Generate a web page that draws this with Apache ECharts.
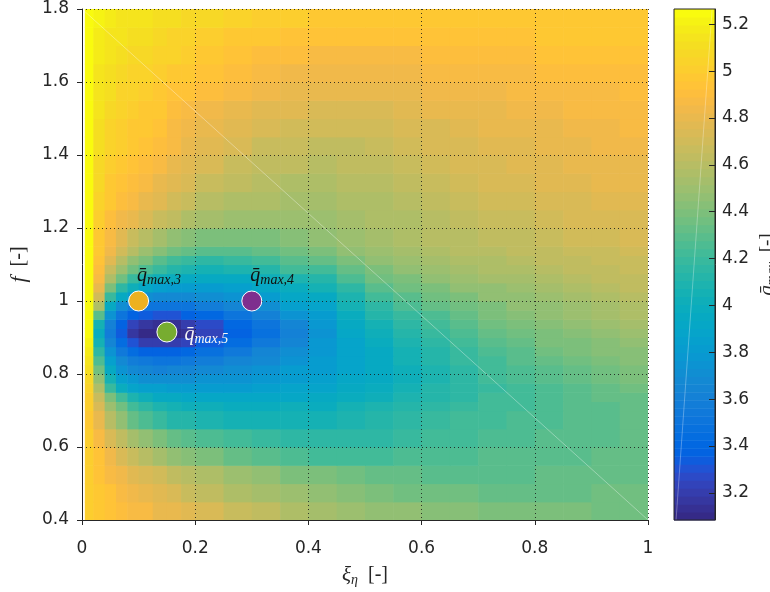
<!DOCTYPE html>
<html>
<head>
<meta charset="utf-8">
<script src="https://cdn.jsdelivr.net/npm/echarts@6/dist/echarts.min.js"></script>
<style>
  html, body { margin: 0; padding: 0; background: #fff; }
  #chart { width: 770px; height: 592px; }
</style>
</head>
<body>
<div id="chart"></div>
<script>
// Bin edges of the (xi_eta, f) sweep; f is sampled finer through the resonance valley
const xiEdges = [0.005, 0.02, 0.04, 0.06, 0.08, 0.1, 0.125, 0.15, 0.175, 0.2, 0.25,
                 0.3, 0.35, 0.4, 0.45, 0.5, 0.55, 0.6, 0.65, 0.7, 0.75, 0.8, 0.85, 0.9, 0.95, 1.0];
const fEdges = [0.4, 0.45, 0.5, 0.55, 0.6, 0.65, 0.7,
                0.725, 0.75, 0.775, 0.8, 0.825, 0.85, 0.875, 0.9, 0.925, 0.95, 0.975, 1.0,
                1.025, 1.05, 1.075, 1.1, 1.125, 1.15,
                1.2, 1.25, 1.3, 1.35, 1.4, 1.45, 1.5, 1.55, 1.6, 1.65, 1.7, 1.75, 1.8];

// q_max per cell, one row per f bin (bottom to top), one column per xi bin
const qRows = [
  [5.02, 4.98, 4.95, 4.92, 4.89, 4.86, 4.82, 4.79, 4.76, 4.72, 4.67, 4.62, 4.58, 4.54, 4.50, 4.48, 4.45, 4.43, 4.42, 4.41, 4.40, 4.39, 4.38, 4.37, 4.37],
  [5.02, 4.97, 4.93, 4.88, 4.84, 4.80, 4.76, 4.72, 4.68, 4.64, 4.58, 4.53, 4.49, 4.45, 4.42, 4.40, 4.37, 4.36, 4.35, 4.34, 4.34, 4.34, 4.34, 4.35, 4.35],
  [5.01, 4.95, 4.89, 4.83, 4.78, 4.74, 4.69, 4.65, 4.61, 4.57, 4.50, 4.45, 4.41, 4.38, 4.35, 4.33, 4.32, 4.31, 4.31, 4.31, 4.31, 4.32, 4.32, 4.33, 4.33],
  [5.00, 4.93, 4.84, 4.75, 4.67, 4.60, 4.53, 4.48, 4.43, 4.38, 4.33, 4.29, 4.26, 4.24, 4.23, 4.23, 4.25, 4.26, 4.27, 4.28, 4.29, 4.30, 4.31, 4.32, 4.33],
  [5.00, 4.88, 4.75, 4.63, 4.53, 4.45, 4.38, 4.33, 4.29, 4.25, 4.21, 4.18, 4.16, 4.15, 4.15, 4.16, 4.20, 4.22, 4.24, 4.26, 4.27, 4.28, 4.30, 4.31, 4.32],
  [4.99, 4.82, 4.60, 4.45, 4.33, 4.25, 4.18, 4.14, 4.11, 4.09, 4.07, 4.06, 4.06, 4.07, 4.09, 4.11, 4.15, 4.18, 4.21, 4.23, 4.25, 4.27, 4.29, 4.31, 4.32],
  [5.00, 4.75, 4.50, 4.35, 4.24, 4.16, 4.10, 4.06, 4.03, 4.01, 4.00, 4.00, 4.01, 4.00, 4.04, 4.08, 4.12, 4.16, 4.19, 4.22, 4.24, 4.26, 4.28, 4.31, 4.33],
  [5.01, 4.68, 4.40, 4.22, 4.10, 4.02, 3.97, 3.94, 3.92, 3.91, 3.91, 3.92, 3.93, 3.95, 3.99, 4.03, 4.08, 4.13, 4.17, 4.21, 4.24, 4.26, 4.29, 4.32, 4.34],
  [5.03, 4.56, 4.20, 4.00, 3.90, 3.86, 3.84, 3.83, 3.82, 3.82, 3.83, 3.85, 3.87, 3.90, 3.95, 3.99, 4.05, 4.11, 4.16, 4.20, 4.24, 4.27, 4.30, 4.33, 4.36],
  [5.07, 4.45, 4.05, 3.85, 3.77, 3.73, 3.71, 3.71, 3.72, 3.74, 3.76, 3.79, 3.83, 3.86, 3.92, 3.97, 4.03, 4.10, 4.16, 4.21, 4.25, 4.29, 4.32, 4.35, 4.38],
  [5.10, 4.35, 3.95, 3.76, 3.68, 3.64, 3.62, 3.63, 3.65, 3.68, 3.71, 3.75, 3.80, 3.83, 3.90, 3.96, 4.03, 4.10, 4.17, 4.22, 4.27, 4.31, 4.34, 4.37, 4.40],
  [5.14, 4.26, 3.86, 3.67, 3.58, 3.53, 3.51, 3.52, 3.55, 3.58, 3.63, 3.69, 3.75, 3.81, 3.89, 3.96, 4.04, 4.11, 4.18, 4.24, 4.29, 4.33, 4.36, 4.39, 4.42],
  [5.18, 4.15, 3.75, 3.55, 3.44, 3.38, 3.36, 3.37, 3.41, 3.48, 3.55, 3.63, 3.70, 3.79, 3.89, 3.97, 4.06, 4.13, 4.20, 4.26, 4.31, 4.35, 4.39, 4.42, 4.44],
  [5.22, 4.05, 3.65, 3.43, 3.30, 3.22, 3.19, 3.20, 3.25, 3.34, 3.45, 3.56, 3.66, 3.77, 3.90, 3.99, 4.08, 4.16, 4.23, 4.29, 4.34, 4.38, 4.41, 4.44, 4.47],
  [5.24, 3.98, 3.58, 3.33, 3.18, 3.10, 3.09, 3.09, 3.13, 3.23, 3.36, 3.49, 3.61, 3.76, 3.92, 4.02, 4.11, 4.19, 4.26, 4.32, 4.37, 4.40, 4.44, 4.47, 4.49],
  [5.25, 4.05, 3.60, 3.36, 3.24, 3.17, 3.14, 3.15, 3.19, 3.28, 3.40, 3.52, 3.65, 3.78, 3.95, 4.06, 4.15, 4.23, 4.29, 4.35, 4.39, 4.43, 4.46, 4.49, 4.52],
  [5.26, 4.30, 3.75, 3.50, 3.38, 3.33, 3.31, 3.32, 3.36, 3.42, 3.52, 3.62, 3.74, 3.83, 3.99, 4.11, 4.20, 4.27, 4.33, 4.38, 4.42, 4.45, 4.49, 4.52, 4.55],
  [5.26, 4.55, 3.95, 3.70, 3.58, 3.52, 3.50, 3.50, 3.52, 3.57, 3.65, 3.73, 3.84, 3.90, 4.04, 4.17, 4.26, 4.32, 4.37, 4.41, 4.45, 4.48, 4.51, 4.54, 4.57],
  [5.26, 4.70, 4.20, 3.95, 3.80, 3.72, 3.68, 3.67, 3.67, 3.70, 3.75, 3.82, 3.91, 3.97, 4.10, 4.23, 4.31, 4.36, 4.41, 4.45, 4.48, 4.51, 4.54, 4.57, 4.59],
  [5.26, 4.80, 4.40, 4.15, 4.01, 3.92, 3.86, 3.83, 3.82, 3.82, 3.86, 3.92, 4.00, 4.05, 4.17, 4.29, 4.36, 4.41, 4.45, 4.48, 4.51, 4.54, 4.57, 4.60, 4.62],
  [5.26, 4.87, 4.56, 4.35, 4.20, 4.10, 4.02, 3.98, 3.95, 3.94, 3.97, 4.03, 4.10, 4.14, 4.25, 4.35, 4.41, 4.45, 4.49, 4.52, 4.54, 4.57, 4.60, 4.62, 4.64],
  [5.26, 4.92, 4.68, 4.50, 4.36, 4.26, 4.18, 4.12, 4.08, 4.06, 4.08, 4.13, 4.21, 4.24, 4.33, 4.41, 4.46, 4.49, 4.52, 4.55, 4.57, 4.60, 4.62, 4.64, 4.66],
  [5.26, 4.95, 4.77, 4.60, 4.48, 4.38, 4.30, 4.24, 4.20, 4.17, 4.18, 4.22, 4.29, 4.32, 4.39, 4.46, 4.50, 4.53, 4.56, 4.58, 4.60, 4.62, 4.64, 4.66, 4.68],
  [5.26, 4.97, 4.83, 4.70, 4.60, 4.50, 4.42, 4.37, 4.33, 4.30, 4.30, 4.33, 4.37, 4.39, 4.45, 4.50, 4.54, 4.57, 4.59, 4.61, 4.63, 4.65, 4.67, 4.68, 4.70],
  [5.26, 4.99, 4.87, 4.76, 4.67, 4.59, 4.52, 4.47, 4.43, 4.40, 4.40, 4.41, 4.43, 4.46, 4.49, 4.53, 4.56, 4.59, 4.61, 4.63, 4.65, 4.67, 4.69, 4.70, 4.72],
  [5.26, 5.02, 4.92, 4.85, 4.79, 4.73, 4.67, 4.62, 4.57, 4.53, 4.50, 4.49, 4.49, 4.50, 4.52, 4.55, 4.58, 4.61, 4.64, 4.66, 4.68, 4.70, 4.72, 4.73, 4.75],
  [5.26, 5.05, 4.96, 4.91, 4.86, 4.81, 4.76, 4.71, 4.66, 4.61, 4.57, 4.55, 4.54, 4.54, 4.56, 4.58, 4.61, 4.64, 4.67, 4.69, 4.71, 4.73, 4.75, 4.76, 4.78],
  [5.26, 5.07, 4.99, 4.95, 4.91, 4.87, 4.82, 4.77, 4.72, 4.67, 4.62, 4.59, 4.58, 4.58, 4.59, 4.61, 4.64, 4.67, 4.70, 4.72, 4.74, 4.76, 4.78, 4.79, 4.80],
  [5.26, 5.09, 5.02, 4.98, 4.94, 4.91, 4.86, 4.82, 4.77, 4.72, 4.67, 4.64, 4.62, 4.61, 4.62, 4.64, 4.67, 4.70, 4.72, 4.74, 4.76, 4.78, 4.80, 4.81, 4.82],
  [5.26, 5.11, 5.04, 5.00, 4.97, 4.94, 4.90, 4.86, 4.81, 4.77, 4.72, 4.68, 4.66, 4.65, 4.65, 4.67, 4.70, 4.72, 4.74, 4.76, 4.78, 4.80, 4.82, 4.83, 4.84],
  [5.26, 5.12, 5.06, 5.02, 4.99, 4.96, 4.93, 4.89, 4.85, 4.81, 4.76, 4.73, 4.71, 4.70, 4.70, 4.71, 4.73, 4.75, 4.77, 4.79, 4.81, 4.82, 4.84, 4.85, 4.86],
  [5.26, 5.13, 5.08, 5.04, 5.01, 4.99, 4.96, 4.92, 4.89, 4.85, 4.81, 4.78, 4.76, 4.75, 4.75, 4.75, 4.77, 4.79, 4.81, 4.82, 4.84, 4.85, 4.86, 4.87, 4.88],
  [5.26, 5.14, 5.10, 5.06, 5.03, 5.01, 4.98, 4.95, 4.93, 4.90, 4.86, 4.83, 4.81, 4.79, 4.79, 4.79, 4.81, 4.83, 4.84, 4.85, 4.86, 4.87, 4.88, 4.89, 4.90],
  [5.26, 5.15, 5.12, 5.08, 5.06, 5.04, 5.01, 4.99, 4.97, 4.94, 4.90, 4.87, 4.85, 4.84, 4.83, 4.83, 4.85, 4.86, 4.87, 4.88, 4.89, 4.90, 4.91, 4.92, 4.92],
  [5.26, 5.17, 5.14, 5.11, 5.09, 5.07, 5.05, 5.03, 5.01, 4.98, 4.95, 4.92, 4.90, 4.89, 4.88, 4.88, 4.89, 4.90, 4.91, 4.92, 4.92, 4.93, 4.94, 4.94, 4.95],
  [5.26, 5.19, 5.16, 5.14, 5.12, 5.10, 5.08, 5.06, 5.05, 5.02, 4.99, 4.97, 4.95, 4.94, 4.93, 4.93, 4.93, 4.94, 4.94, 4.95, 4.95, 4.96, 4.96, 4.97, 4.97],
  [5.26, 5.21, 5.18, 5.16, 5.15, 5.13, 5.12, 5.10, 5.09, 5.07, 5.04, 5.02, 5.00, 4.99, 4.98, 4.97, 4.97, 4.97, 4.97, 4.98, 4.98, 4.98, 4.98, 4.99, 4.99]
];

// Colour limits and colorbar ticks
const qLimits = [3.084, 5.265];
const cbTicks = [3.2, 3.4, 3.6, 3.8, 4.0, 4.2, 4.4, 4.6, 4.8, 5.0, 5.2];

// Highlighted operating points
const markerIds = ['3', '4', '5'];
const markerXi = [0.1, 0.3, 0.15];
const markerF = [1.0, 1.0, 0.915];
const markerColors = ['#edb120', '#7e2f8e', '#77ac30'];
const markerLabelColors = ['#111111', '#111111', '#f6f6f6'];

// Faint rendering seam across the surface and the colorbar
const seamMain = [[0, 1.8], [1, 0.4]];
const seamBar = [[0.93, 5.265], [0.05, 3.084]];

// 64-step parula colormap
const parula = [
  '#352a87','#363093','#3637a0','#353dad','#3243ba','#2c4ac7','#2053d4','#0f5cdd',
  '#0363e1','#0268e1','#046de0','#0871de','#0d75dc','#1079da','#127dd8','#1481d6',
  '#1485d4','#1389d3','#108ed2','#0c93d2','#0998d1','#079ccf','#06a0cd','#06a4ca',
  '#06a7c6','#07a9c2','#0aacbe','#0faeb9','#15b1b4','#1db3af','#25b5a9','#2eb7a4',
  '#38b99e','#42bb98','#4dbc92','#59bd8c','#65be86','#71bf80','#7cbf7b','#87bf77',
  '#92bf73','#9cbf6f','#a5be6b','#aebe67','#b7bd64','#c0bc60','#c8bc5d','#d1bb59',
  '#d9ba56','#e1b952','#e9b94e','#f1b94a','#f8bb44','#fdbe3d','#ffc337','#fec832',
  '#fcce2e','#fad32a','#f7d826','#f5de21','#f5e41d','#f5eb18','#f6f313','#f9fb0e'
];

function colorOf(v) {
  const n = parula.length;
  let k = Math.floor((v - qLimits[0]) / (qLimits[1] - qLimits[0]) * n);
  k = Math.max(0, Math.min(n - 1, k));
  return parula[k];
}

const cells = [];
qRows.forEach((row, j) => {
  row.forEach((v, i) => {
    cells.push([(xiEdges[i] + xiEdges[i + 1]) / 2, (fEdges[j] + fEdges[j + 1]) / 2, v, i, j]);
  });
});

const nCols = xiEdges.length - 1;
const textColor = '#262626';
const tickFont = 'DejaVu Sans';
const mathFont = 'Liberation Serif';

const chart = echarts.init(document.getElementById('chart'), null, { renderer: 'canvas' });

const option = {
  animation: false,
  backgroundColor: '#ffffff',
  grid: [
    { left: 82, top: 9, width: 566, height: 511, containLabel: false, outerBoundsMode: 'none' },
    { left: 674, top: 9, width: 41, height: 511, containLabel: false, outerBoundsMode: 'none',
      show: true, z: 12, backgroundColor: 'transparent', borderColor: textColor, borderWidth: 1 }
  ],
  xAxis: [
    {
      type: 'value', gridIndex: 0, min: 0, max: 1, interval: 0.2, z: 10,
      axisLine: { show: true, onZero: false, lineStyle: { color: textColor, width: 1 } },
      axisTick: { show: true, inside: false, length: 5, lineStyle: { color: textColor } },
      splitLine: { show: true, lineStyle: { color: '#1a1a1a', width: 1, type: [1, 3], opacity: 0.85 } },
      axisLabel: { color: textColor, fontFamily: tickFont, fontSize: 17, margin: 20 },
      name: '{a|ξ}{b|η}{c|  [-]}',
      nameLocation: 'middle', nameGap: 43, nameMoveOverlap: false,
      nameTextStyle: {
        rich: {
          a: { fontFamily: mathFont, fontStyle: 'italic', fontSize: 21, color: textColor },
          b: { fontFamily: mathFont, fontStyle: 'italic', fontSize: 14, color: textColor, padding: [10, 0, 0, 0] },
          c: { fontFamily: mathFont, fontSize: 20, color: textColor }
        }
      }
    },
    { type: 'value', gridIndex: 1, min: 0, max: 1, show: false }
  ],
  yAxis: [
    {
      type: 'value', gridIndex: 0, min: 0.4, max: 1.8, interval: 0.2, z: 10,
      axisLine: { show: true, onZero: false, lineStyle: { color: textColor, width: 1 } },
      axisTick: { show: true, inside: false, length: 5, lineStyle: { color: textColor } },
      splitLine: { show: true, lineStyle: { color: '#1a1a1a', width: 1, type: [1, 3], opacity: 0.85 } },
      axisLabel: { color: textColor, fontFamily: tickFont, fontSize: 17, margin: 13 },
      name: '{a|f}{c|  [-]}',
      nameLocation: 'middle', nameGap: 52, nameRotate: 90, nameMoveOverlap: false,
      nameTextStyle: {
        rich: {
          a: { fontFamily: mathFont, fontStyle: 'italic', fontSize: 22, color: textColor },
          c: { fontFamily: mathFont, fontSize: 20, color: textColor }
        }
      }
    },
    {
      type: 'value', gridIndex: 1, min: qLimits[0], max: qLimits[1], position: 'right', z: 12,
      axisLine: { show: true, onZero: false, lineStyle: { color: textColor, width: 1 } },
      axisTick: { show: true, inside: true, length: 6, customValues: cbTicks, lineStyle: { color: textColor } },
      splitLine: { show: false },
      axisLabel: { color: textColor, fontFamily: tickFont, fontSize: 17, margin: 7, customValues: cbTicks },
      name: '{a|q\u0304}{b|max}{c|  [-]}',
      nameLocation: 'middle', nameGap: 40, nameRotate: 90, nameMoveOverlap: false,
      nameTextStyle: {
        rich: {
          a: { fontFamily: mathFont, fontStyle: 'italic', fontSize: 21, color: textColor },
          b: { fontFamily: mathFont, fontStyle: 'italic', fontSize: 14, color: textColor, padding: [10, 0, 0, 0] },
          c: { fontFamily: mathFont, fontSize: 19, color: textColor }
        }
      }
    }
  ],
  series: [
    {
      type: 'custom', xAxisIndex: 0, yAxisIndex: 0, z: 2, silent: true,
      data: cells,
      encode: { x: 0, y: 1 },
      renderItem: function (params, api) {
        const i = api.value(3), j = api.value(4);
        const pTL = api.coord([xiEdges[i], fEdges[j + 1]]);
        const pBR = api.coord([xiEdges[i + 1], fEdges[j]]);
        const padW = i < nCols - 1 ? 0.6 : 0;
        const padH = j > 0 ? 0.6 : 0;
        return {
          type: 'rect',
          shape: { x: pTL[0], y: pTL[1], width: pBR[0] - pTL[0] + padW, height: pBR[1] - pTL[1] + padH },
          style: { fill: colorOf(api.value(2)) }
        };
      }
    },
    {
      type: 'line', xAxisIndex: 0, yAxisIndex: 0, z: 3, silent: true,
      data: seamMain, symbol: 'none',
      lineStyle: { color: '#ffffff', width: 1, opacity: 0.35 }
    },
    {
      type: 'custom', xAxisIndex: 1, yAxisIndex: 1, z: 2, silent: true,
      data: parula.map((c, k) => [0.5, k]),
      renderItem: function (params, api) {
        const k = api.value(1);
        const step = (qLimits[1] - qLimits[0]) / parula.length;
        const pTL = api.coord([0, qLimits[0] + (k + 1) * step]);
        const pBR = api.coord([1, qLimits[0] + k * step]);
        return {
          type: 'rect',
          shape: { x: pTL[0], y: pTL[1], width: pBR[0] - pTL[0], height: pBR[1] - pTL[1] + 0.6 },
          style: { fill: parula[k] }
        };
      }
    },
    {
      type: 'line', xAxisIndex: 1, yAxisIndex: 1, z: 3, silent: true,
      data: seamBar, symbol: 'none',
      lineStyle: { color: '#ffffff', width: 1, opacity: 0.3 }
    },
    {
      type: 'scatter', xAxisIndex: 0, yAxisIndex: 0, z: 20, silent: true,
      symbol: 'circle', symbolSize: 20,
      data: markerXi.map((x, k) => ({
        value: [x, markerF[k]],
        itemStyle: { color: markerColors[k], opacity: 1, borderColor: '#ffffff', borderWidth: 1 },
        label: {
          show: true,
          formatter: '{q|q\u0304}{s|max,' + markerIds[k] + '}',
          position: k === 2 ? [28, 13] : [9, -15],
          align: 'left', verticalAlign: 'middle',
          rich: {
            q: { fontFamily: mathFont, fontStyle: 'italic', fontSize: 20, color: markerLabelColors[k] },
            s: { fontFamily: mathFont, fontStyle: 'italic', fontSize: 14, color: markerLabelColors[k], padding: [9, 0, 0, 0] }
          }
        }
      }))
    }
  ]
};

chart.setOption(option);
</script>
</body>
</html>
